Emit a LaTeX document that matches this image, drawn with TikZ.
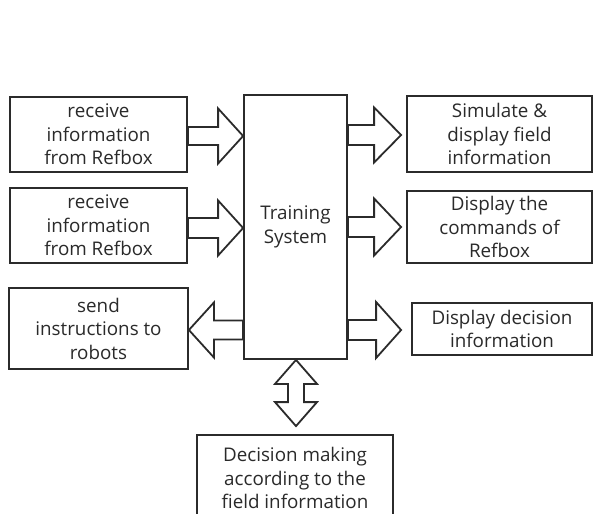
\documentclass[tikz,border=0pt]{standalone}
\usepackage{fontspec}
\setmainfont{Open Sans}
\usetikzlibrary{calc,shadows}

\definecolor{inkline}{HTML}{2B2B2B}
\definecolor{inktext}{HTML}{2A2A2A}

% horizontal block arrow: tail point, tip point, centre y, head length (signed),
% half width of the shaft, half width of the head
\newcommand\blockarrow[6]{%
  \draw[barrow] let \p1=(#1), \p2=(#2) in
    ({\x1},{#3+#5}) -- ({\x2-(#4)},{#3+#5}) -- ({\x2-(#4)},{#3+#6}) -- ({\x2},{#3}) --
    ({\x2-(#4)},{#3-#6}) -- ({\x2-(#4)},{#3-#5}) -- ({\x1},{#3-#5}) -- cycle;}

\begin{document}
\begin{tikzpicture}[x=1pt,y=1pt,
  box/.style={draw=inkline, line width=1.8pt, fill=white, inner sep=0pt,
    align=center, text=inktext, font=\fontsize{18.8}{23.5}\selectfont,
    drop shadow={shadow xshift=1.3pt, shadow yshift=-1.3pt, fill=black!40, opacity=1}},
  barrow/.style={draw=inkline, line width=1.8pt, line join=miter}]
\useasboundingbox (0,0) rectangle (593,-513);

% blocks
\node[box, minimum width=103, minimum height=264] (sys) at (295.5,-227) {Training\\System};
\node[box, minimum width=177, minimum height=75] (l1) at (98.5,-134.5) {receive\\information\\from Refbox};
\node[box, minimum width=177, minimum height=75] (l2) at (98.5,-225.5) {receive\\information\\from Refbox};
\node[box, minimum width=179, minimum height=81] (l3) at (98.5,-328.5) {send\\instructions to\\robots};
\node[box, minimum width=185, minimum height=76] (r1) at (499.5,-134) {Simulate \&\\display field\\information};
\node[box, minimum width=185, minimum height=72] (r2) at (499.5,-227) {Display the\\commands of\\Refbox};
\node[box, minimum width=180, minimum height=52] (r3) at (502,-329) {Display decision\\information};
\node[box, minimum width=196, minimum height=86] (dec) at (295,-478) {Decision making\\according to the\\field information};

% block arrows into and out of the training system
\blockarrow{l1.east}{sys.west}{-136pt}{25pt}{9pt}{27.5pt}
\blockarrow{l2.east}{sys.west}{-228pt}{25pt}{10pt}{27.5pt}
\blockarrow{sys.west}{l3.east}{-330pt}{-25pt}{9.5pt}{27.5pt}
\blockarrow{sys.east}{$(r1.west)+(-5pt,0)$}{-135pt}{27pt}{10pt}{27.5pt}
\blockarrow{sys.east}{$(r2.west)+(-5pt,0)$}{-227pt}{27pt}{10pt}{28.5pt}
\blockarrow{sys.east}{$(r3.west)+(-10pt,0)$}{-330pt}{25pt}{10pt}{28pt}

% two-way arrow between the system and the decision block
\draw[barrow] let \p1=(sys.south), \p2=(dec.north) in
  ({\x1+0.5pt},{\y1}) -- ({\x1+21.5pt},{\y1-24pt}) -- ({\x1+8.5pt},{\y1-24pt}) --
  ({\x1+8.5pt},{\y2+32pt}) -- ({\x1+21.5pt},{\y2+32pt}) -- ({\x1+0.5pt},{\y2+8pt}) --
  ({\x1-20.5pt},{\y2+32pt}) -- ({\x1-7.5pt},{\y2+32pt}) -- ({\x1-7.5pt},{\y1-24pt}) --
  ({\x1-20.5pt},{\y1-24pt}) -- cycle;
\end{tikzpicture}
\end{document}
